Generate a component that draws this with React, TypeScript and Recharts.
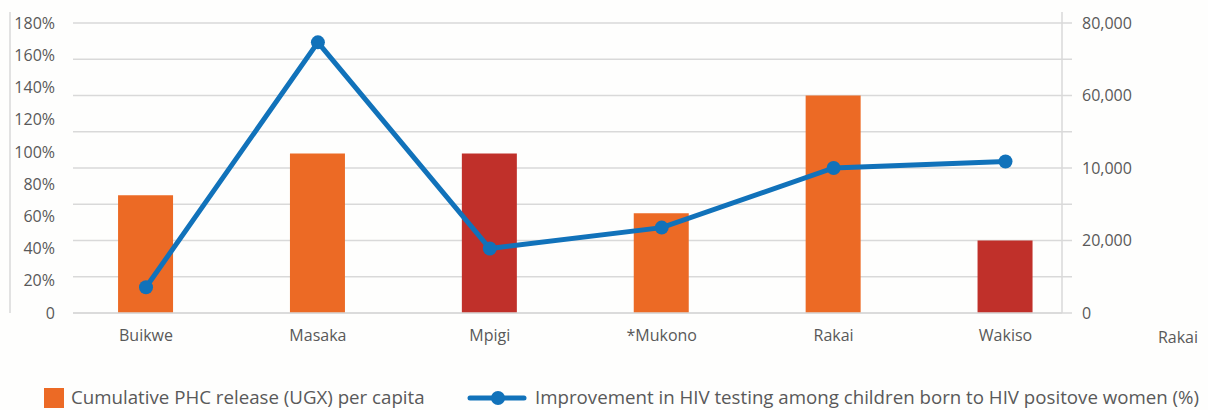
import React from "react";
import {
  ComposedChart,
  Bar,
  Line,
  XAxis,
  YAxis,
  CartesianGrid,
  Cell,
} from "recharts";

const categories = ["Buikwe", "Masaka", "Mpigi", "*Mukono", "Rakai", "Wakiso"];
const extraCategoryLabel = "Rakai";
const phcReleasePerCapita = [32500, 44000, 44000, 27500, 60000, 20000];
const hivTestingImprovement = [16, 168, 40, 53, 90, 94];
const barColors = ["#EC6A25", "#EC6A25", "#C0302A", "#EC6A25", "#EC6A25", "#C0302A"];
const leftTicks = [0, 20, 40, 60, 80, 100, 120, 140, 160, 180];
const rightTicks = [0, 10000, 20000, 30000, 40000, 50000, 60000, 70000, 80000];
const rightTickLabels: Record<number, string> = {
  0: "0",
  20000: "20,000",
  40000: "10,000",
  60000: "60,000",
  80000: "80,000",
};
const barLegend = "Cumulative PHC release (UGX) per capita";
const lineLegend = "Improvement in HIV testing among children born to HIV positove women (%)";

const data = categories.map((name, i) => ({
  idx: i,
  name,
  phc: phcReleasePerCapita[i],
  hiv: hivTestingImprovement[i],
}));

const FONT = "'Open Sans', sans-serif";
const TEXT = "#595959";
const GRID = "#D9D9D9";
const LINE = "#1172BA";
const EXT = 301 / 290;
const TICK_FS = 16;
const LEGEND_FS = 18.7;

export default function App() {
  return (
    <div
      style={{
        position: "absolute",
        left: 0,
        top: 0,
        width: 1208,
        height: 410,
        background: "#FEFEFD",
        fontFamily: FONT,
      }}
    >
      <ComposedChart
        width={1208}
        height={410}
        data={data}
        margin={{ top: 12, right: 0, left: 0, bottom: 67 }}
      >
        <CartesianGrid
          yAxisId="right"
          vertical={false}
          horizontalValues={rightTicks}
          stroke={GRID}
          strokeWidth={1.5}
        />
        <XAxis
          dataKey="idx"
          type="number"
          domain={[-0.4247, 5.3287]}
          ticks={[0, 1, 2, 3, 4, 5]}
          tickFormatter={(v: number) => categories[v] ?? ""}
          allowDataOverflow
          height={30}
          axisLine={{ stroke: GRID, strokeWidth: 1.5 }}
          tickLine={false}
          tickSize={0}
          tickMargin={17}
          tick={{ fill: TEXT, fontSize: TICK_FS, fontFamily: FONT }}
          interval={0}
        />
        <YAxis
          yAxisId="leftMarks"
          orientation="left"
          domain={[0, 80000 * EXT]}
          ticks={rightTicks}
          allowDataOverflow
          width={10}
          tick={false}
          tickSize={10}
          tickLine={{ stroke: GRID, strokeWidth: 1.5 }}
          axisLine={{ stroke: GRID, strokeWidth: 1.5 }}
        />
        <YAxis
          yAxisId="left"
          orientation="left"
          domain={[0, 180 * EXT]}
          ticks={leftTicks}
          allowDataOverflow
          width={63}
          axisLine={false}
          tickLine={false}
          tickSize={0}
          tickMargin={18}
          tickFormatter={(v: number) => (v === 0 ? "0" : `${v}%`)}
          tick={{ fill: TEXT, fontSize: TICK_FS, fontFamily: FONT }}
          interval={0}
        />
        <YAxis
          yAxisId="right"
          orientation="right"
          domain={[0, 80000 * EXT]}
          ticks={rightTicks}
          allowDataOverflow
          width={146}
          tickSize={10}
          tickMargin={10}
          tickLine={{ stroke: GRID, strokeWidth: 1.5 }}
          axisLine={{ stroke: GRID, strokeWidth: 1.5 }}
          tickFormatter={(v: number) => rightTickLabels[v] ?? ""}
          tick={{ fill: TEXT, fontSize: TICK_FS, fontFamily: FONT }}
          interval={0}
        />
        <Bar
          yAxisId="right"
          dataKey="phc"
          barSize={55}
          isAnimationActive={false}
        >
          {data.map((d, i) => (
            <Cell key={d.name} fill={barColors[i]} />
          ))}
        </Bar>
        <Line
          yAxisId="left"
          dataKey="hiv"
          stroke={LINE}
          strokeWidth={5}
          dot={{ r: 7, fill: LINE, stroke: LINE, strokeWidth: 0 }}
          activeDot={false}
          isAnimationActive={false}
        />
      </ComposedChart>

      <div
        style={{
          position: "absolute",
          left: 1138,
          top: 326,
          width: 80,
          textAlign: "center",
          fontSize: TICK_FS,
          color: TEXT,
          fontFamily: FONT,
        }}
      >
        {extraCategoryLabel}
      </div>

      <div
        style={{
          position: "absolute",
          left: 44,
          top: 388,
          width: 20,
          height: 20,
          background: barColors[0],
        }}
      />
      <div
        style={{
          position: "absolute",
          left: 71,
          top: 384,
          fontSize: LEGEND_FS,
          color: TEXT,
          whiteSpace: "nowrap",
          fontFamily: FONT,
        }}
      >
        {barLegend}
      </div>
      <svg
        style={{ position: "absolute", left: 467, top: 388 }}
        width={60}
        height={20}
      >
        <line x1={3} y1={10} x2={57} y2={10} stroke={LINE} strokeWidth={5} strokeLinecap="round" />
        <circle cx={31} cy={10} r={7} fill={LINE} />
      </svg>
      <div
        style={{
          position: "absolute",
          left: 535,
          top: 384,
          fontSize: LEGEND_FS,
          color: TEXT,
          whiteSpace: "nowrap",
          fontFamily: FONT,
        }}
      >
        {lineLegend}
      </div>
    </div>
  );
}
